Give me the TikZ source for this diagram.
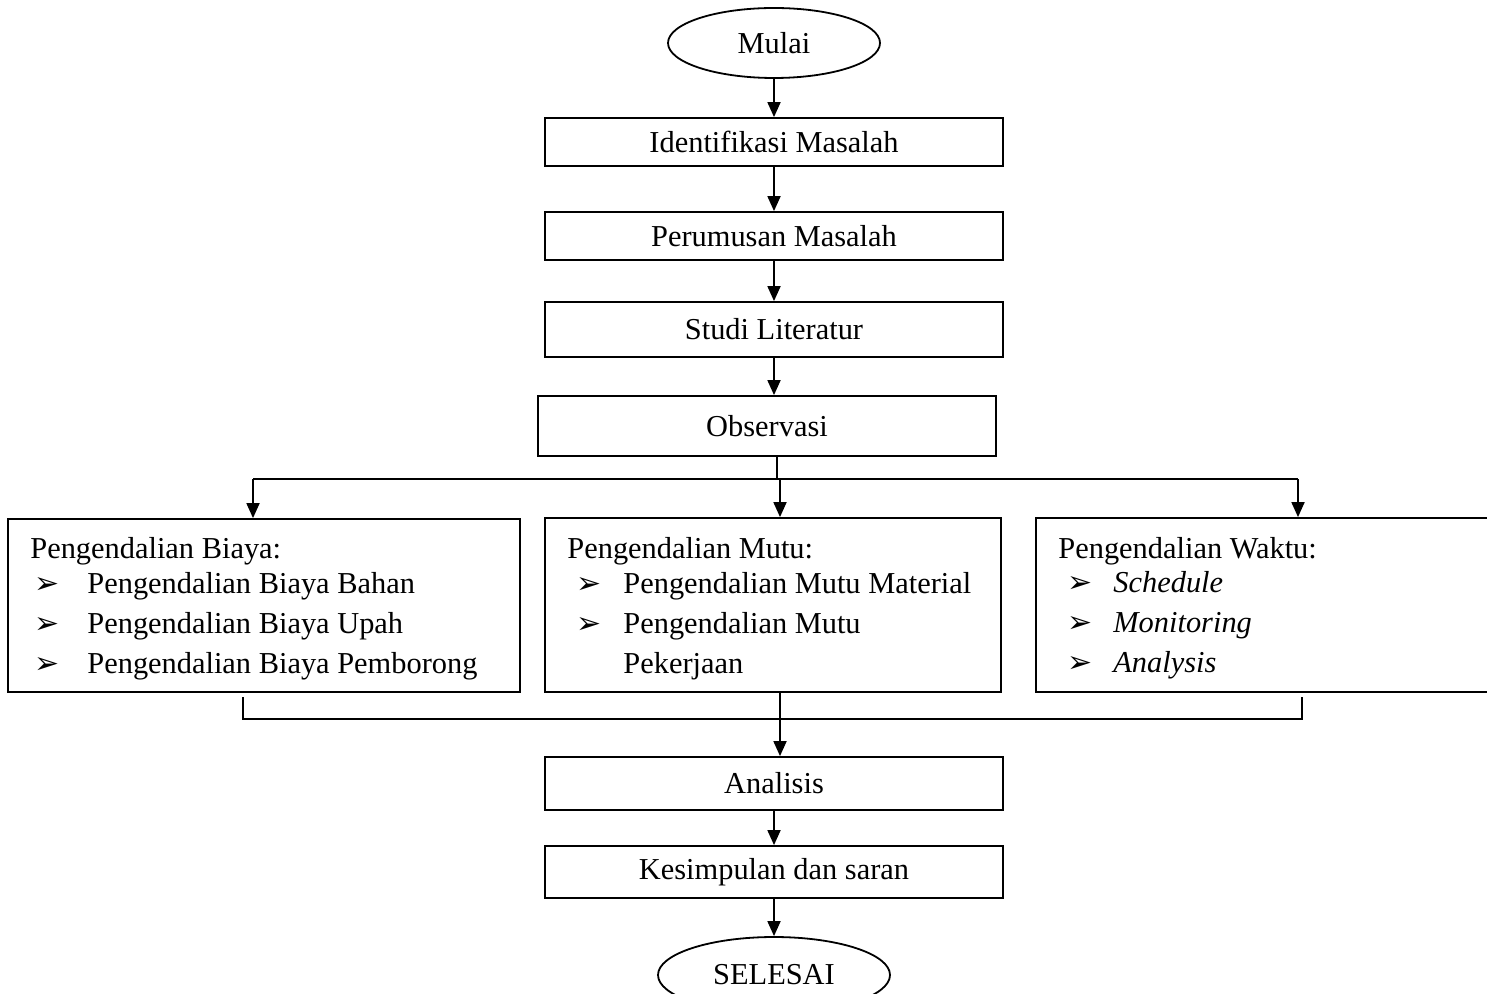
\documentclass[tikz,border=0pt]{standalone}
\usepackage{fontspec}
\setmainfont{Liberation Serif}
\newfontfamily\symfont{DejaVu Sans}
\usetikzlibrary{arrows.meta,shapes.geometric}
\begin{document}
\begin{tikzpicture}[x=0.5pt,y=-0.5pt,
  font=\fontsize{15.2}{19}\selectfont,
  box/.style={draw, line width=0.9pt, inner sep=0pt},
  term/.style={draw, ellipse, line width=0.9pt, inner sep=0pt},
  flow/.style={line width=0.9pt, -{Triangle[length=7.5pt,width=6.5pt]}},
  link/.style={line width=0.9pt},
  txt/.style={anchor=base west, inner sep=0pt},
  bul/.style={anchor=base west, inner sep=0pt, font=\symfont\fontsize{15}{17}\selectfont}]
\useasboundingbox (0,0) rectangle (1487,994);
\clip (0,0) rectangle (1487,994);

% main column
\node[term, minimum width=106pt, minimum height=35pt] (start) at (774,43) {Mulai};
\node[box, minimum width=229pt, minimum height=24pt] (ident) at (774,142) {Identifikasi Masalah};
\node[box, minimum width=229pt, minimum height=24pt] (rumus) at (774,236) {Perumusan Masalah};
\node[box, minimum width=229pt, minimum height=27.5pt] (studi) at (774,329.5) {Studi Literatur};
\node[box, minimum width=229pt, minimum height=30pt] (obs) at (767,426) {Observasi};

% three branch boxes
\node[box, minimum width=256pt, minimum height=86.5pt] (biaya) at (264,605.5) {};
\node[box, minimum width=228pt, minimum height=87pt] (mutu) at (773,605) {};
\node[box, minimum width=228pt, minimum height=87pt] (waktu) at (1264,605) {};

\node[box, minimum width=229pt, minimum height=26.5pt] (anal) at (774,783.5) {\raisebox{-1.5pt}{Analisis}};
\node[box, minimum width=229pt, minimum height=26pt] (kes) at (774,872) {\raisebox{-1.5pt}{Kesimpulan dan saran}};
\node[term, minimum width=116pt, minimum height=38pt] (end) at (774,975) {SELESAI};

% box texts: biaya
\node[txt] (b0) at (30,558) {Pengendalian Biaya:};
\node[bul] (b1m) at (34,593) {➢};
\node[txt] (b1) at (87,593) {Pengendalian Biaya Bahan};
\node[bul] (b2m) at (34,633) {➢};
\node[txt] (b2) at (87,633) {Pengendalian Biaya Upah};
\node[bul] (b3m) at (34,673) {➢};
\node[txt] (b3) at (87,673) {Pengendalian Biaya Pemborong};

% mutu
\node[txt] (m0) at (567,558) {Pengendalian Mutu:};
\node[bul] (m1m) at (576,593) {➢};
\node[txt] (m1) at (623,593) {Pengendalian Mutu Material};
\node[bul] (m2m) at (576,633) {➢};
\node[txt] (m2) at (623,633) {Pengendalian Mutu};
\node[txt] (m3) at (623,673) {Pekerjaan};

% waktu
\node[txt] (w0) at (1058,558) {Pengendalian Waktu:};
\node[bul] (w1m) at (1067,592) {➢};
\node[txt] (w1) at (1113,592) {\itshape Schedule};
\node[bul] (w2m) at (1067,632) {➢};
\node[txt] (w2) at (1113,632) {\itshape Monitoring};
\node[bul] (w3m) at (1067,672) {➢};
\node[txt] (w3) at (1113,672) {\itshape Analysis};

% connectors
\draw[flow] (start.south) -- (ident.north);
\draw[flow] (ident.south) -- (rumus.north);
\draw[flow] (rumus.south) -- (studi.north);
\draw[flow] (studi.south) -- (studi.south |- obs.north);

\coordinate (jO) at (777,479);
\coordinate (jL) at (253,479);
\coordinate (jM) at (780,479);
\coordinate (jR) at (1298,479);
\draw[link] (obs.south -| jO) -- (jO);
\draw[link] (jL) -- (jR);
\draw[flow] (jL) -- (jL |- biaya.north);
\draw[flow] (jM) -- (jM |- mutu.north);
\draw[flow] (jR) -- (jR |- waktu.north);

\coordinate (kL) at (243,697);
\coordinate (kLb) at (243,719);
\coordinate (kRb) at (1302,719);
\coordinate (kR) at (1302,697);
\coordinate (kM) at (780,692);
\draw[link] (kL) -- (kLb) -- (kRb) -- (kR);
\draw[flow] (mutu.south -| kM) -- (kM |- anal.north);

\draw[flow] (anal.south) -- (kes.north);
\draw[flow] (kes.south) -- (end.north);
\end{tikzpicture}
\end{document}
